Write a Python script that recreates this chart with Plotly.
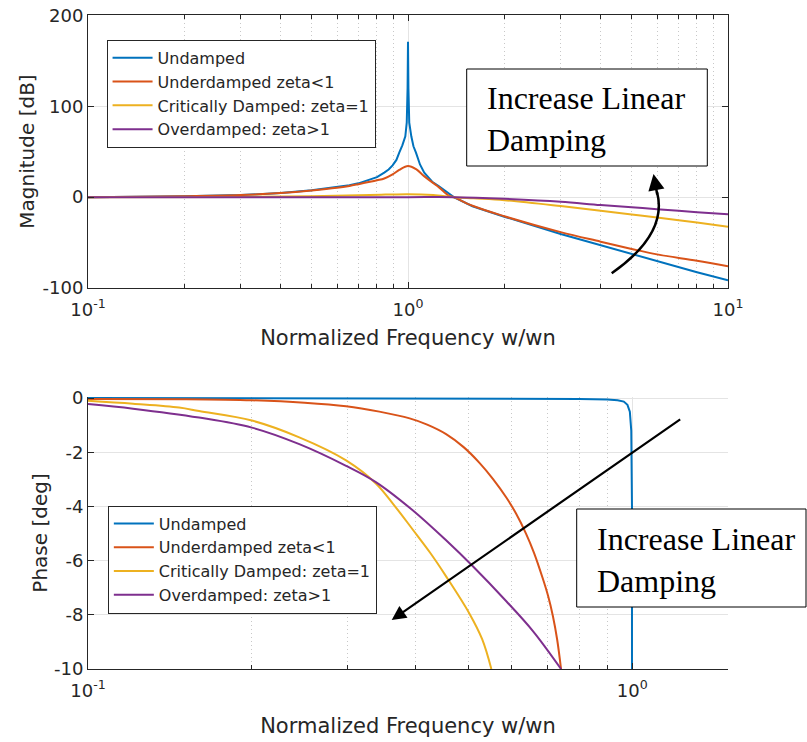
import plotly.graph_objects as go

# ---------------- data ----------------
series_names = ["Undamped", "Underdamped zeta<1", "Critically Damped: zeta=1", "Overdamped: zeta>1"]
series_colors = ["#0072BD", "#D95319", "#EDB120", "#7E2F8E"]

# Magnitude [dB] vs normalized frequency
mag_undamped_w = [0.1, 0.15, 0.2, 0.3, 0.4, 0.5, 0.6, 0.656, 0.7, 0.75, 0.8, 0.843, 0.87, 0.895, 0.92, 0.939,
                  0.96, 0.981, 0.991, 0.997, 1.0, 1.003, 1.009, 1.024, 1.04, 1.059, 1.09, 1.124, 1.19, 1.25,
                  1.39, 1.59, 2.0, 3.0, 4.0, 5.0, 6.0, 8.0, 10.0]
mag_undamped_db = [0, 0.5, 1, 2.3, 4.5, 7.5, 10.8, 13, 15.2, 18.3, 22, 27, 30.5, 35, 41, 49,
                   57, 67, 82, 120, 171, 120, 82, 67, 56, 49, 36, 27, 17, 12,
                   0, -10, -21.5, -40.5, -53, -62.6, -70.5, -82.7, -91.5]

mag_under_w = [0.1, 0.2, 0.3, 0.4, 0.5, 0.6, 0.656, 0.7, 0.8, 0.843, 0.895, 0.939, 1.0, 1.06, 1.12,
               1.194, 1.25, 1.346, 1.39, 1.59, 2.0, 3.0, 4.0, 5.0, 6.0, 8.0, 10.0]
mag_under_db = [0, 1, 2.3, 4.5, 7.3, 10.3, 12.4, 14.3, 18.5, 20.5, 25, 30, 34.4, 30.8, 23.4,
                16, 10.8, 1.4, 0, -9.5, -21, -38.5, -49, -57, -63, -70, -76]

mag_crit_w = [0.1, 0.3, 0.5, 0.7, 0.85, 1.0, 1.2, 1.39, 1.6, 2.0, 3.0, 4.0, 5.0, 6.0, 8.0, 10.0]
mag_crit_db = [0, 0.3, 1, 2, 2.8, 3.3, 2.3, 0, -1.3, -3.3, -9.8, -15, -19, -22.5, -28, -32.5]

mag_over_w = [0.1, 0.5, 1.0, 1.39, 2.0, 3.0, 4.0, 5.0, 6.0, 8.0, 10.0]
mag_over_db = [0, 0, 0, 0, -1.8, -5, -8.7, -11, -13.3, -16.5, -18.7]

# Phase [deg] vs normalized frequency
ph_undamped_w = [0.1, 0.5, 0.8, 0.9, 0.94, 0.965, 0.98, 0.99, 0.996, 0.999, 1.0, 1.001, 1.5]
ph_undamped_deg = [0, -0.01, -0.03, -0.05, -0.08, -0.13, -0.25, -0.5, -1.2, -4, -90, -180, -180]

ph_under_w = [0.1, 0.15, 0.2, 0.25, 0.298, 0.343, 0.39, 0.42, 0.455, 0.49, 0.524, 0.555, 0.587, 0.612,
              0.638, 0.66, 0.685, 0.7, 0.715, 0.728, 0.74]
ph_under_deg = [-0.03, -0.04, -0.08, -0.17, -0.3, -0.5, -0.75, -0.98, -1.33, -1.81, -2.39, -2.99, -3.67,
                -4.27, -5.0, -5.71, -6.66, -7.28, -8.05, -8.92, -10]

ph_crit_w = [0.1, 0.121, 0.147, 0.16, 0.2, 0.2445, 0.298, 0.338, 0.365, 0.395, 0.425, 0.455, 0.502,
             0.53, 0.551]
ph_crit_deg = [-0.1, -0.21, -0.35, -0.48, -0.83, -1.45, -2.3, -3.15, -3.95, -4.85, -5.7, -6.58, -7.95,
               -8.9, -10]

ph_over_w = [0.1, 0.121, 0.16, 0.2, 0.2445, 0.298, 0.338, 0.395, 0.455, 0.509, 0.587, 0.657, 0.74]
ph_over_deg = [-0.22, -0.39, -0.72, -1.09, -1.7, -2.5, -3.1, -4.14, -5.25, -6.2, -7.5, -8.6, -10]

# Tick labels
x_tick_vals = [0.1, 1, 10]
x_tick_text = ["10<sup>-1</sup>", "10<sup>0</sup>", "10<sup>1</sup>"]
mag_tick_vals = [-100, 0, 100, 200]
mag_tick_text = ["-100", "0", "100", "200"]
ph_tick_vals = [-10, -8, -6, -4, -2, 0]
ph_tick_text = ["-10", "-8", "-6", "-4", "-2", "0"]

annotation_text = "Increase Linear<br>Damping"
x_title = "Normalized Frequency w/wn"

# ---------------- figure ----------------
SANS = "DejaVu Sans, Liberation Sans, Arial, sans-serif"
SERIF = "Liberation Serif, Times New Roman, serif"
AX = "#262626"
GRID = "#e4e4e4"
MINOR_GRID = "#c8c8c8"

mag_sets = [(mag_undamped_w, mag_undamped_db), (mag_under_w, mag_under_db),
            (mag_crit_w, mag_crit_db), (mag_over_w, mag_over_db)]
ph_sets = [(ph_undamped_w, ph_undamped_deg), (ph_under_w, ph_under_deg),
           (ph_crit_w, ph_crit_deg), (ph_over_w, ph_over_deg)]

fig = go.Figure()
for i, (w, v) in enumerate(mag_sets):
    fig.add_trace(go.Scatter(x=w, y=v, mode="lines", name=series_names[i],
                             line=dict(color=series_colors[i], width=2,
                                       shape="linear" if i == 0 else "spline", smoothing=1.0),
                             xaxis="x", yaxis="y", legend="legend"))
for i, (w, v) in enumerate(ph_sets):
    fig.add_trace(go.Scatter(x=w, y=v, mode="lines", name=series_names[i],
                             line=dict(color=series_colors[i], width=2,
                                       shape="linear" if i == 0 else "spline", smoothing=1.0),
                             xaxis="x2", yaxis="y2", legend="legend2"))

minor_vals = [m * 10 ** e for e in (-1, 0) for m in range(2, 10)]

def xaxis_common(rng, mirror, title_standoff):
    return dict(type="log", range=rng, tickvals=x_tick_vals, ticktext=x_tick_text,
                showline=True, linecolor=AX, linewidth=1, mirror=mirror,
                ticks="inside", ticklen=6, tickcolor=AX, automargin=False, ticklabeloverflow="allow",
                showgrid=True, gridcolor=GRID, gridwidth=1, zeroline=False,
                minor=dict(tickvals=minor_vals, ticks="inside", ticklen=4, tickcolor=AX,
                           showgrid=True, gridcolor=MINOR_GRID, griddash="1px,3px", gridwidth=1),
                tickfont=dict(family=SANS, size=18, color=AX),
                title=dict(text=x_title, font=dict(family=SANS, size=21, color=AX), standoff=title_standoff),
                ticklabelstandoff=5)

# plot area lands at x 88..728, y 15..669 of the 807x742 window (page margin removed below)
fig_w, fig_h = 807, 742
top_dom = [(669 - 288) / 654, 1.0]
bot_dom = [0.0, (669 - 397) / 654]

legend_common = dict(xanchor="left", yanchor="top", bgcolor="white", bordercolor=AX, borderwidth=1,
                     font=dict(family=SANS, size=16, color=AX), tracegroupgap=0, itemwidth=40)

fig.update_layout(
    width=fig_w, height=fig_h,
    margin=dict(l=88, r=79, t=15, b=73),
    paper_bgcolor="white", plot_bgcolor="white",
    xaxis=dict(anchor="y", domain=[0, 1], **xaxis_common([-1, 1], "ticks", 11)),
    yaxis=dict(anchor="x", domain=top_dom, range=[-100, 200.5], tickvals=mag_tick_vals, ticktext=mag_tick_text,
               showline=True, linecolor=AX, linewidth=1, mirror="ticks", automargin=False,
               ticklabeloverflow="allow",
               ticks="inside", ticklen=6, tickcolor=AX, showgrid=True, gridcolor=GRID, zeroline=False,
               tickfont=dict(family=SANS, size=18, color=AX), ticklabelstandoff=0,
               title=dict(text="Magnitude [dB]", font=dict(family=SANS, size=20, color=AX), standoff=2)),
    xaxis2=dict(anchor="y2", domain=[0, 1], **xaxis_common([-1, 0.176], False, 18)),
    yaxis2=dict(anchor="x2", domain=bot_dom, range=[-10, 0.04], tickvals=ph_tick_vals, ticktext=ph_tick_text,
                showline=True, linecolor=AX, linewidth=1, mirror=False, automargin=False,
                ticklabeloverflow="allow",
                ticks="inside", ticklen=6, tickcolor=AX, showgrid=True, gridcolor=GRID, zeroline=False,
                tickfont=dict(family=SANS, size=18, color=AX), ticklabelstandoff=0,
                title=dict(text="Phase [deg]", font=dict(family=SANS, size=20, color=AX), standoff=0)),
    legend=dict(x=0.029, y=0.962, **legend_common),
    legend2=dict(x=0.031, y=0.250, **legend_common),
    showlegend=True,
)

def px(xp):
    return (xp - 88) / 640.0

def py(yp):
    return (669 - yp) / 654.0

# annotation boxes
fig.add_shape(type="rect", xref="paper", yref="paper",
              x0=px(466.7), x1=px(707.3), y0=py(166), y1=py(69),
              line=dict(color="black", width=1), fillcolor="white", layer="above")
fig.add_shape(type="rect", xref="paper", yref="paper",
              x0=px(576.7), x1=px(806), y0=py(607), y1=py(509),
              line=dict(color="black", width=1), fillcolor="white", layer="above")
fig.add_annotation(xref="paper", yref="paper", x=px(485), y=py(119), xanchor="left", yanchor="middle",
                   text=annotation_text, showarrow=False, align="left",
                   font=dict(family=SERIF, size=32, color="black"))
fig.add_annotation(xref="paper", yref="paper", x=px(595), y=py(560), xanchor="left", yanchor="middle",
                   text=annotation_text, showarrow=False, align="left",
                   font=dict(family=SERIF, size=32, color="black"))

# curved arrow (top)
path = "M {} {} C {} {}, {} {}, {} {}".format(px(611.7), py(273.3), px(652), py(245), px(664), py(218),
                                              px(657), py(192))
fig.add_shape(type="path", xref="paper", yref="paper", path=path, line=dict(color="black", width=2.5))
fig.add_annotation(xref="paper", yref="paper", x=px(653.5), y=py(174), ax=4, ay=22,
                   showarrow=True, arrowhead=2, arrowsize=1.3, arrowwidth=2.5, arrowcolor="black", text="")

# straight arrow (bottom)
fig.add_annotation(xref="paper", yref="paper", x=px(391.7), y=py(620), ax=290, ay=-201.7,
                   showarrow=True, arrowhead=2, arrowsize=1.3, arrowwidth=2.2, arrowcolor="black", text="")

fig.write_html("out.html", config={"displayModeBar": False},
               post_script="document.body.style.margin='0px';")
